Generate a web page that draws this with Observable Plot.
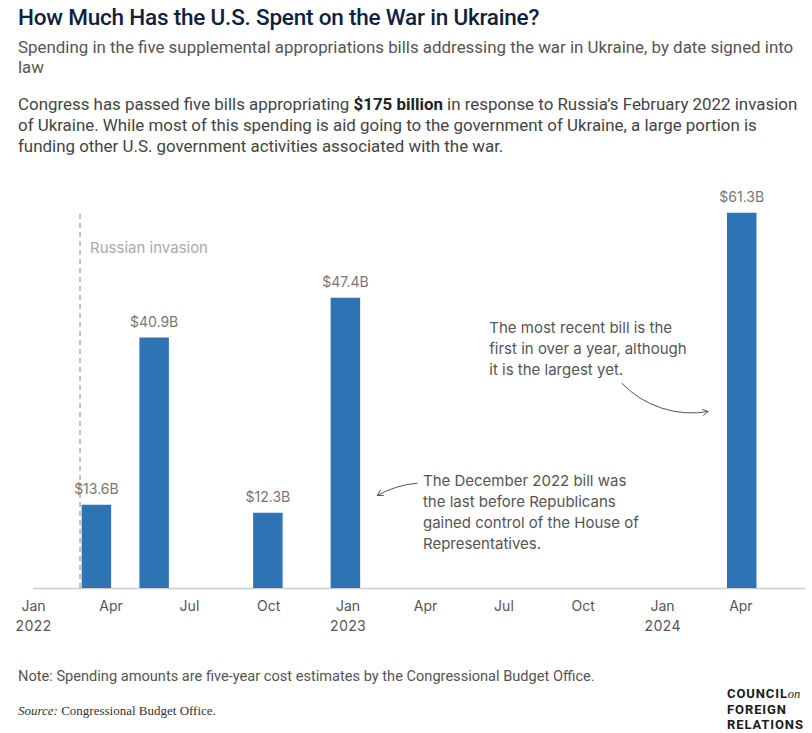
<!DOCTYPE html>
<html>
<head>
<meta charset="utf-8">
<script src="https://cdn.jsdelivr.net/npm/d3@7"></script>
<script src="https://cdn.jsdelivr.net/npm/@observablehq/plot@0.6"></script>
<style>
  html, body { margin: 0; padding: 0; background: #fff; }
  body { width: 812px; height: 733px; position: relative; overflow: hidden; }
  .hdr { font-family: Roboto, "Liberation Sans", sans-serif; margin-left: 18px; width: 794px; }
  #title { font-size: 22.5px; font-weight: 500; color: #0d2240; line-height: 28px; margin-top: 3px; letter-spacing: -0.2px; }
  #subtitle { font-size: 16.9px; color: #555; line-height: 20px; margin-top: 6px; }
  #para { font-size: 16.9px; color: #444; line-height: 21px; margin-top: 17px; }
  #chart { margin-top: 8px; }
  #note { font-family: Roboto, sans-serif; font-size: 14.6px; color: #555; position: absolute; left: 18px; top: 666px; line-height: 20px; }
  #source { font-family: "Liberation Serif", serif; font-size: 13px; color: #333; position: absolute; left: 18px; top: 702px; line-height: 18px; }
  #logo { position: absolute; left: 727px; top: 686px; font-family: Roboto, sans-serif; font-weight: 700; font-size: 13px; line-height: 15px; color: #1a1a1a; letter-spacing: 0.9px; }
  #logo i { font-family: "Liberation Serif", serif; font-weight: 400; letter-spacing: 0; font-size: 12.5px; }
</style>
</head>
<body>
<div id="title" class="hdr">How Much Has the U.S. Spent on the War in Ukraine?</div>
<div id="subtitle" class="hdr">Spending in the five supplemental appropriations bills addressing the war in Ukraine, by date signed into law</div>
<div id="para" class="hdr">Congress has passed five bills appropriating <b style="color:#222">$175 billion</b> in response to Russia’s February 2022 invasion of Ukraine. While most of this spending is aid going to the government of Ukraine, a large portion is funding other U.S. government activities associated with the war.</div>
<div id="chart"></div>
<div id="note">Note: Spending amounts are five-year cost estimates by the Congressional Budget Office.</div>
<div id="source"><i>Source:</i> Congressional Budget Office.</div>
<div id="logo">COUNCIL<i>on</i><br>FOREIGN<br>RELATIONS</div>
<script>
// ---- data ----
const billDates = ["2022-03-15", "2022-05-21", "2022-09-30", "2022-12-29", "2024-04-02"];
const billValues = [13.6, 40.9, 12.3, 47.4, 61.3];
const billLabels = ["$13.6B", "$40.9B", "$12.3B", "$47.4B", "$61.3B"];

const invasionDate = "2022-02-24";
const invasionLabel = "Russian invasion";
const invasionTop = 61.3;
const invasionLabelY = 55.6;

const tickDates = ["2022-01-01","2022-04-01","2022-07-01","2022-10-01","2023-01-01","2023-04-01","2023-07-01","2023-10-01","2024-01-01","2024-04-01"];
const monthNames = ["Jan","Feb","Mar","Apr","May","Jun","Jul","Aug","Sep","Oct","Nov","Dec"];

const noteTexts = [
  "The December 2022 bill was\nthe last before Republicans\ngained control of the House of\nRepresentatives.",
  "The most recent bill is the\nfirst in over a year, although\nit is the largest yet."
];
const noteDates = ["2023-03-29", "2023-06-14"];
const noteYs = [19.25, 44.2];

const arrowFromDates = ["2023-03-22", "2023-11-15"];
const arrowFromYs = [17.2, 33.5];
const arrowToDates = ["2023-02-04", "2024-02-23"];
const arrowToYs = [15.2, 28.9];
const arrowBends = [-12, -28];

const xDomain = ["2022-01-01", "2024-06-15"];
const yDomain = [0, 65];

// ---- build ----
const P = s => new Date(s + "T00:00:00Z");
const bills = billDates.map((d, i) => ({date: P(d), value: billValues[i], label: billLabels[i]}));
const notes = noteTexts.map((t, i) => ({text: t, date: P(noteDates[i]), y: noteYs[i]}));
const arrows = arrowFromDates.map((d, i) => ({x1: P(d), y1: arrowFromYs[i], x2: P(arrowToDates[i]), y2: arrowToYs[i], bend: arrowBends[i]}));

const chart = Plot.plot({
  width: 812,
  height: 473,
  marginLeft: 33,
  marginRight: 7,
  marginTop: 25,
  marginBottom: 50,
  style: {fontFamily: "Inter, sans-serif", fontSize: "14px", color: "#666", background: "#fff"},
  x: {type: "utc", domain: xDomain.map(P)},
  y: {domain: yDomain, axis: null},
  marks: [
    Plot.ruleY([0], {stroke: "#ccc", strokeWidth: 1.5}),
    Plot.ruleX([P(invasionDate)], {y1: 0, y2: invasionTop, stroke: "#bbb", strokeWidth: 1.8, strokeDasharray: "5,4"}),
    Plot.text([invasionLabel], {x: P(invasionDate), y: invasionLabelY, text: d => d, textAnchor: "start", dx: 10, fill: "#aaa", fontSize: 15}),
    Plot.ruleX(bills, {x: "date", y1: 0, y2: "value", stroke: "#2e74b5", strokeWidth: 29.5}),
    Plot.text(bills, {x: "date", y: "value", text: "label", dy: -16, fill: "#777", fontSize: 14}),
    Plot.text(notes, {x: "date", y: "y", text: "text", textAnchor: "start", lineAnchor: "top", lineHeight: 1.4, fill: "#555", fontSize: 15}),
    ...arrows.map(a => Plot.arrow([a], {x1: "x1", y1: "y1", x2: "x2", y2: "y2", bend: a.bend, stroke: "#555", strokeWidth: 1, headLength: 9})),
    Plot.axisX({
      ticks: tickDates.map(P),
      tickSize: 0,
      tickPadding: 8,
      fontSize: 14,
      lineHeight: 1.43,
      fill: "#555",
      tickFormat: d => monthNames[d.getUTCMonth()] + (d.getUTCMonth() === 0 ? "\n" + d.getUTCFullYear() : ""),
      label: null
    })
  ]
});
document.getElementById("chart").appendChild(chart);
</script>
</body>
</html>
